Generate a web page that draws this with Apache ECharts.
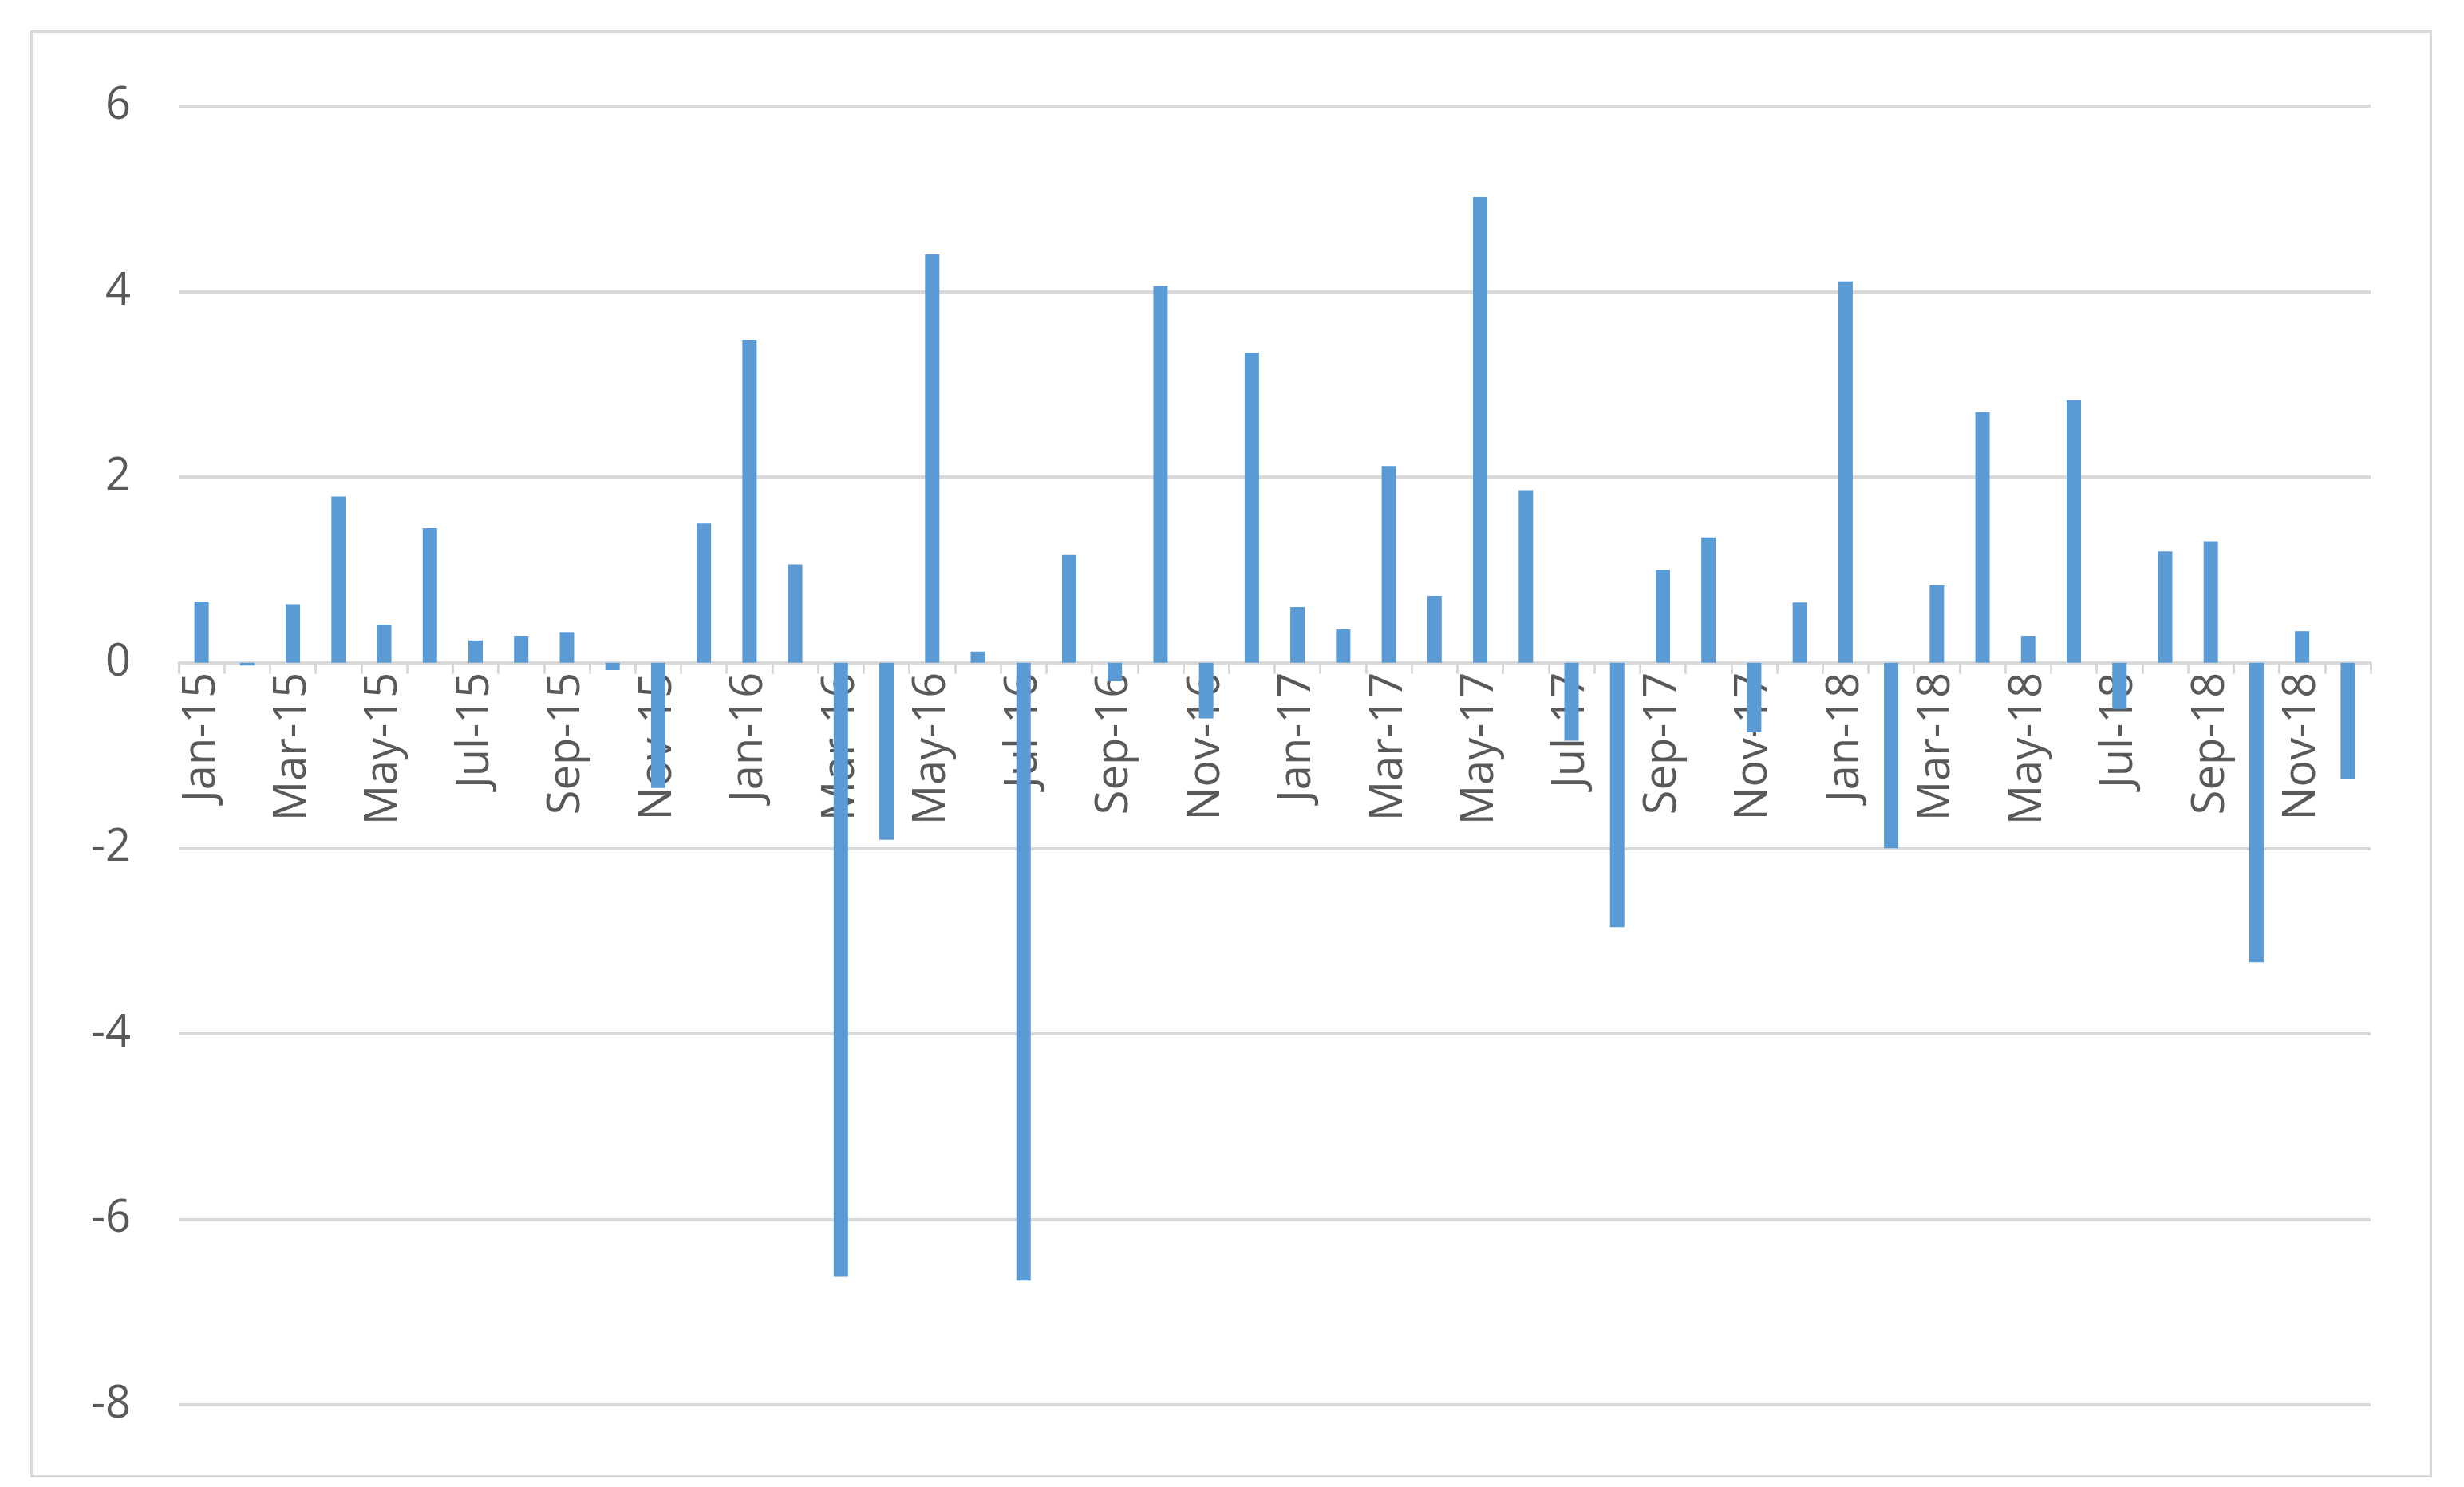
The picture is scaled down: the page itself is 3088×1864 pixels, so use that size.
<!DOCTYPE html>
<html>
<head>
<meta charset="utf-8">
<script src="https://cdn.jsdelivr.net/npm/echarts@6/dist/echarts.min.js"></script>
<style>
  body { margin: 0; background: #fff; }
  #frame { position: absolute; left: 38px; top: 38px; width: 3010px; height: 1814px; border: 3px solid #d9d9d9; box-sizing: border-box; }
  #chart { position: absolute; left: 0; top: 0; width: 3088px; height: 1864px; }
</style>
</head>
<body>
<div id="frame"></div>
<div id="chart"></div>
<script>
var months = ['Jan','Feb','Mar','Apr','May','Jun','Jul','Aug','Sep','Oct','Nov','Dec'];
var years = ['15','16','17','18'];
var categories = [];
years.forEach(function (y) { months.forEach(function (m) { categories.push(m + '-' + y); }); });

var values2015 = [0.66, -0.03, 0.63, 1.79, 0.41, 1.45, 0.24, 0.29, 0.33, -0.08, -1.35, 1.50];
var values2016 = [3.48, 1.06, -6.62, -1.91, 4.40, 0.12, -6.66, 1.16, -0.20, 4.06, -0.60, 3.34];
var values2017 = [0.60, 0.36, 2.12, 0.72, 5.02, 1.86, -0.84, -2.85, 1.00, 1.35, -0.75, 0.65];
var values2018 = [4.11, -2.00, 0.84, 2.70, 0.29, 2.83, -0.50, 1.20, 1.31, -3.23, 0.34, -1.25];
var values = values2015.concat(values2016, values2017, values2018);

var gridTop = 133, gridBottom = 103, yMin = -8, yMax = 6;
var plotH = 1864 - gridTop - gridBottom;
var zeroOffset = -plotH * (0 - yMin) / (yMax - yMin);

var chart = echarts.init(document.getElementById('chart'));
chart.setOption({
    animation: false,
    grid: { left: 224, right: 117, top: gridTop, bottom: gridBottom },
    xAxis: {
        type: 'category',
        data: categories,
        position: 'bottom',
        offset: zeroOffset,
        axisLine: { onZero: false, lineStyle: { color: '#d9d9d9', width: 3 } },
        axisTick: { show: true, interval: 0, length: 14, lineStyle: { color: '#d9d9d9', width: 3 } },
        axisLabel: { interval: 1, rotate: 90, color: '#595959', fontSize: 56, fontFamily: 'Open Sans', margin: 12 }
    },
    yAxis: {
        type: 'value',
        min: yMin, max: yMax, interval: 2,
        axisLine: { show: false },
        axisTick: { show: false },
        axisLabel: { color: '#595959', fontSize: 56, fontFamily: 'Open Sans', margin: 60 },
        splitLine: { lineStyle: { color: '#d9d9d9', width: 4 } }
    },
    series: [{
        type: 'bar',
        data: values,
        barWidth: 18,
        itemStyle: { color: '#5b9bd5' },
        z: 3
    }]
});
</script>
</body>
</html>
